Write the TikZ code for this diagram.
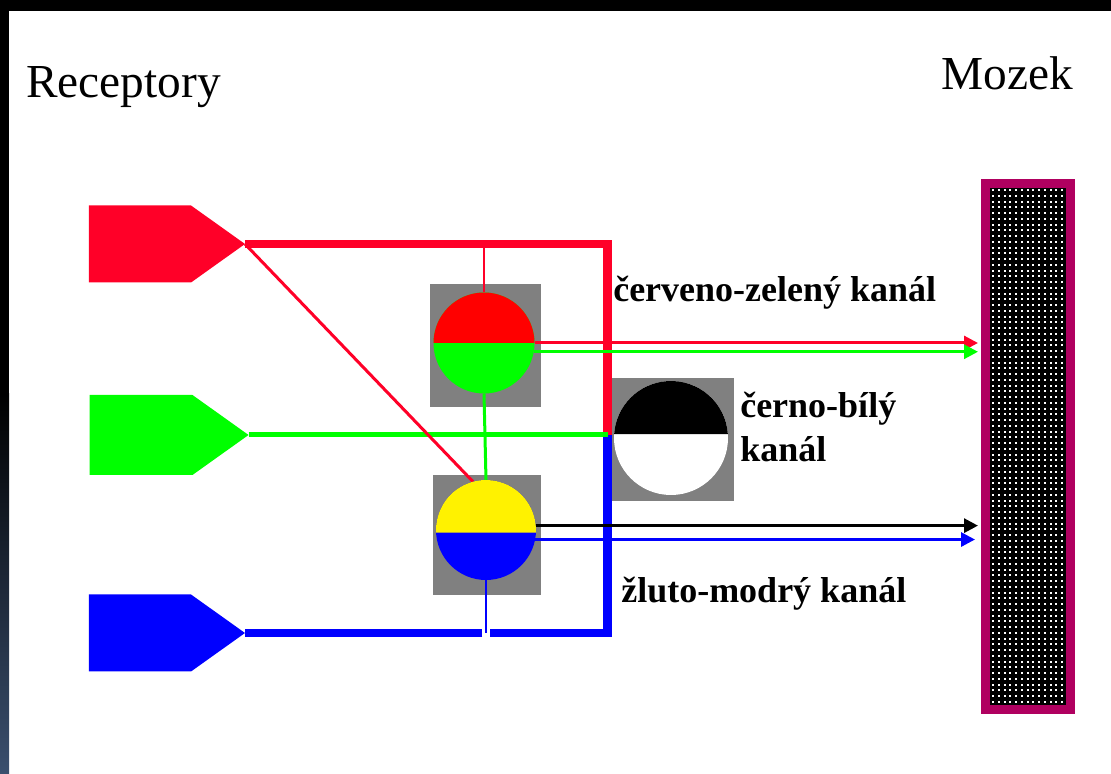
\documentclass[tikz,border=0pt]{standalone}
\usepackage{fontspec}
\setmainfont{Liberation Serif}
\usetikzlibrary{arrows.meta,calc,shapes.symbols}
\definecolor{recred}{RGB}{255,0,40}
\definecolor{recgreen}{RGB}{0,255,0}
\definecolor{recblue}{RGB}{0,0,255}
\definecolor{boxgray}{RGB}{128,128,128}
\definecolor{brainpink}{RGB}{176,0,96}
\definecolor{frameblue}{RGB}{58,79,110}

\begin{document}
\begin{tikzpicture}[x=0.75pt, y=0.75pt,
  receptor/.style={signal, signal to=east, signal pointer angle=71, inner sep=0pt,
    outer sep=0pt, minimum width=117pt, minimum height=57.75pt},
  cellbox/.style={fill=boxgray, inner sep=0pt, outer sep=0pt},
  ball/.style={circle, inner sep=0pt, outer sep=0pt},
  thickline/.style={line width=6.5pt},
  thinline/.style={line width=1.5pt},
  outarrow/.style={line width=2.25pt, -{Triangle[length=10.5pt, width=10.5pt]}, shorten >=2.25pt},
  head/.style={font=\fontsize{35.5}{40}\selectfont, anchor=base west, inner sep=0pt},
  chan/.style={font=\fontsize{27}{33}\selectfont\bfseries, anchor=base west, inner sep=0pt},
]

% ---------- page and frame ----------
\useasboundingbox (0,0) rectangle (1111,774);
\fill[white] (0,0) rectangle (1111,774);
\fill[black] (0,763) rectangle (1111,774);
\fill[black] (0,0) rectangle (9,774);
\shade[top color=black, bottom color=frameblue] (0,0) rectangle (9,380);

% ---------- titles ----------
\node[head] (receptory) at (26,676) {Receptory};
\node[head] (mozek) at (941,684) {Mozek};

% ---------- brain ----------
\node[draw=brainpink, line width=6.75pt, fill=black, inner sep=0pt,
  minimum width=63.75pt, minimum height=394.5pt] (brain) at (1028,327.5) {};
\foreach \i in {0,...,12} {
  \foreach \j in {0,...,89} {
    \fill[white] ({992+\i*5.75}, {71+\j*5.75}) rectangle +(2,2);
  }
}

% ---------- receptors ----------
\node[receptor, fill=recred] (recR) at (140,530) {};
\node[receptor, fill=recgreen, minimum width=119.25pt, minimum height=60pt] (recG) at (141,339) {};
\node[receptor, fill=recblue] (recB) at (140,141) {};

% ---------- opponent cells ----------
\node[cellbox, minimum width=83.25pt, minimum height=92.25pt] (rgbox) at (485.5,428.5) {};
\node[cellbox, minimum width=81pt, minimum height=90pt] (ybbox) at (487,239) {};
\node[cellbox, minimum width=91.5pt, minimum height=92.25pt] (bwbox) at (673,334.5) {};
\node[ball, minimum size=75.75pt] (rgc) at (484,431) {};
\node[ball, minimum size=75pt] (ybc) at (486,244) {};
\node[ball, minimum size=85.5pt] (bwc) at (671,336) {};

\coordinate (J) at (607.5,339);
\coordinate (B) at (ybc.south |- recB.east);

% ---------- wiring ----------
\draw[thickline, recred] (recR.east) -| (J);
\draw[thickline, recblue] (J) |- ($(B)+(4,0)$);
\draw[thickline, recblue] ($(B)+(-4,0)$) -- (recB.east);
\draw[line width=3.75pt, recgreen] (recG.east) -- (J);
\draw[thinline, recred] (rgc.north |- recR.east) -- (rgc.north);
\draw[line width=2.25pt, recgreen] (rgc.south) -- (ybc.north);
\draw[line width=2.25pt, recred] (recR.east) -- (ybc.105);
\draw[thinline, recblue] (ybc.south) -- (B);

% ---------- cells ----------
\fill[green] (rgc.center) circle[radius=50.5];
\fill[red] (rgc.east) arc[start angle=0, end angle=180, radius=50.5] -- cycle;
\fill[recblue] (ybc.center) circle[radius=50];
\fill[yellow] (ybc.-3) arc[start angle=-3, end angle=183, radius=50] -- cycle;
\fill[white] (bwc.center) circle[radius=57];
\fill[black] (bwc.4) arc[start angle=4, end angle=176, radius=57] -- cycle;

% ---------- channels to the brain ----------
\draw[outarrow, recred] (rgc.east) -- (rgc.east -| brain.west);
\draw[outarrow, recgreen] (rgc.-10) -- (rgc.-10 -| brain.west);
\draw[outarrow, black] (ybc.5) -- (ybc.5 -| brain.west);
\draw[outarrow, recblue, shorten >=4.5pt] (ybc.-11) -- (ybc.-11 -| brain.west);

% ---------- labels ----------
\node[chan] (lblRG) at (613,472) {červeno-zelený kanál};
\node[chan, align=left] (lblBW) at (740,312) {černo-bílý\\kanál};
\node[chan] (lblYB) at (621,171) {žluto-modrý kanál};

\end{tikzpicture}
\end{document}
